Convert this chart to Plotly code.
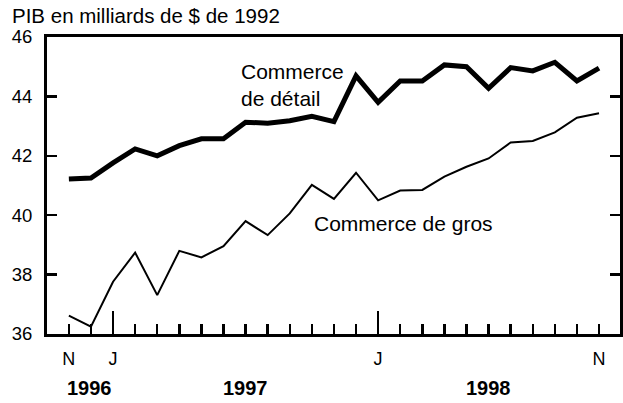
import plotly.graph_objects as go

# Months from November 1996 (index 0) to November 1998 (index 24)
months = list(range(25))
month_labels = ["N", "", "J", "", "", "", "", "", "", "", "", "", "", "", "J",
                "", "", "", "", "", "", "", "", "", "N"]
major_months = [2, 14]  # January 1997, January 1998

retail = [41.22, 41.25, 41.76, 42.23, 42.00, 42.34, 42.57, 42.57, 43.13, 43.10,
          43.18, 43.33, 43.15, 44.69, 43.80, 44.52, 44.52, 45.06, 45.00, 44.27,
          44.97, 44.86, 45.15, 44.52, 44.95]
wholesale = [36.62, 36.25, 37.76, 38.74, 37.31, 38.80, 38.58, 38.96, 39.80, 39.33,
             40.06, 41.02, 40.55, 41.43, 40.50, 40.83, 40.85, 41.30, 41.63, 41.91,
             42.45, 42.50, 42.79, 43.28, 43.43]

years = ["1996", "1997", "1998"]
year_pos = [0.95, 8, 19]
y_ticks = [36, 38, 40, 42, 44, 46]

FONT = "Arial, 'Liberation Sans', Helvetica, sans-serif"
XR = [-0.99, 24.95]
YR = [36, 46]

W, H = 623, 403
ML, MT, MR, MB = 47, 37, 0, 69
PH = H - MT - MB

fig = go.Figure()
fig.add_trace(go.Scatter(x=months, y=retail, mode="lines",
                         line=dict(color="black", width=5), hoverinfo="skip"))
fig.add_trace(go.Scatter(x=months, y=wholesale, mode="lines", xaxis="x2", yaxis="y",
                         line=dict(color="black", width=2), hoverinfo="skip"))

fig.update_layout(
    width=W, height=H,
    margin=dict(l=ML, r=MR, t=MT, b=MB, pad=0),
    paper_bgcolor="white", plot_bgcolor="white",
    showlegend=False, hovermode=False,
    font=dict(family=FONT, color="black", size=18),
    title=dict(text="PIB en milliards de $ de 1992", xref="container", yref="container",
               x=12 / W, y=1 - 15.5 / H, xanchor="left", yanchor="middle",
               font=dict(family=FONT, size=20.5, color="black")),
    xaxis=dict(range=XR, showgrid=False, zeroline=False,
               showline=True, linewidth=3, linecolor="black", mirror=True,
               ticks="inside", ticklen=10, tickwidth=2.5, tickcolor="black",
               tickvals=months, ticktext=month_labels,
               tickfont=dict(size=18), ticklabelstandoff=6),
    yaxis=dict(range=YR, showgrid=False, zeroline=False,
               showline=True, linewidth=3, linecolor="black", mirror="ticks",
               ticks="inside", ticklen=10, tickwidth=2.5, tickcolor="black",
               tickvals=y_ticks, tickfont=dict(size=18.5), ticklabelstandoff=8),
    xaxis2=dict(range=XR, overlaying="x", anchor="y", side="bottom",
                showgrid=False, zeroline=False, showline=False,
                ticks="inside", ticklen=23, tickwidth=2.5, tickcolor="black",
                tickvals=major_months, showticklabels=False),
)

for yr, xp in zip(years, year_pos):
    fig.add_annotation(text=yr, x=xp, xref="x", y=-54 / PH, yref="paper",
                       showarrow=False, xanchor="center", yanchor="middle",
                       font=dict(family=FONT, size=20, color="black", weight="bold"))

fig.add_annotation(text="Commerce<br>de détail", x=7.7, xref="x", y=44.38, yref="y",
                   showarrow=False, xanchor="left", yanchor="middle", align="left",
                   font=dict(family=FONT, size=21, color="black"))
fig.add_annotation(text="Commerce de gros", x=11.0, xref="x", y=39.72, yref="y",
                   showarrow=False, xanchor="left", yanchor="middle", align="left",
                   font=dict(family=FONT, size=21, color="black"))

fig.write_html("out.html", config={"displayModeBar": False, "staticPlot": True},
               post_script="document.body.style.margin='0';document.body.style.overflow='hidden';")
